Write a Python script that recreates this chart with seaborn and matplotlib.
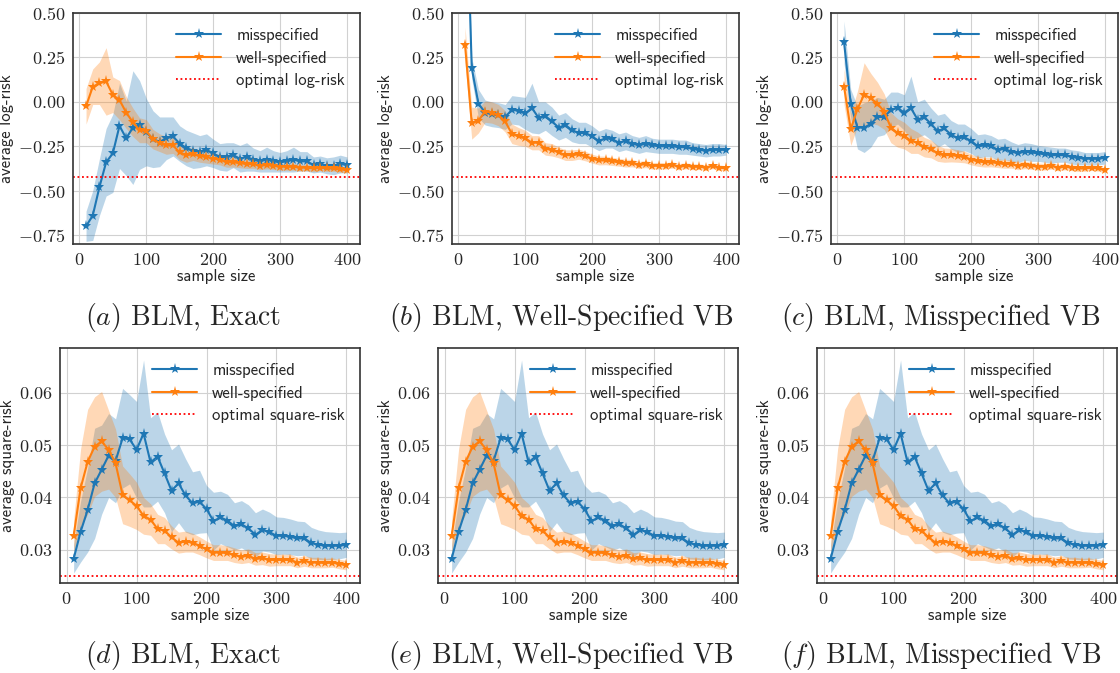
import numpy as np
import seaborn as sns
import matplotlib
matplotlib.use("Agg")
import matplotlib.pyplot as plt
from matplotlib.ticker import FuncFormatter

# sample sizes
sizes = list(range(10, 401, 10))

# ---- log-risk (top row) ----
log_mis_exact = [-0.70, -0.64, -0.48, -0.34, -0.29, -0.135, -0.205, -0.145, -0.13, -0.17,
                 -0.21, -0.225, -0.205, -0.195, -0.235, -0.26, -0.275, -0.28, -0.27, -0.29,
                 -0.31, -0.31, -0.30, -0.32, -0.31, -0.325, -0.335, -0.325, -0.335, -0.34,
                 -0.335, -0.325, -0.335, -0.335, -0.355, -0.35, -0.36, -0.36, -0.35, -0.355]
log_mis_exact_sd = [0.085, 0.14, 0.16, 0.19, 0.22, 0.24, 0.21, 0.32, 0.25, 0.19,
                    0.16, 0.14, 0.12, 0.11, 0.10, 0.10, 0.10, 0.09, 0.09, 0.08,
                    0.075, 0.08, 0.07, 0.075, 0.08, 0.065, 0.06, 0.07, 0.06, 0.055,
                    0.06, 0.07, 0.055, 0.055, 0.045, 0.045, 0.045, 0.05, 0.05, 0.045]
log_well_exact = [-0.025, 0.085, 0.105, 0.115, 0.04, 0.01, -0.06, -0.115, -0.16, -0.165,
                  -0.21, -0.23, -0.245, -0.245, -0.285, -0.30, -0.295, -0.305, -0.31, -0.32,
                  -0.325, -0.34, -0.34, -0.345, -0.35, -0.35, -0.36, -0.355, -0.36, -0.365,
                  -0.365, -0.365, -0.37, -0.37, -0.375, -0.37, -0.375, -0.375, -0.38, -0.385]
log_well_exact_sd = [0.10, 0.10, 0.12, 0.19, 0.10, 0.11, 0.09, 0.08, 0.07, 0.065,
                     0.055, 0.05, 0.05, 0.045, 0.04, 0.04, 0.035, 0.035, 0.035, 0.03,
                     0.03, 0.028, 0.027, 0.026, 0.025, 0.024, 0.022, 0.022, 0.021, 0.02,
                     0.02, 0.02, 0.019, 0.018, 0.018, 0.017, 0.017, 0.016, 0.016, 0.015]

log_mis_wsvb = [1.45, 0.19, -0.01, -0.06, -0.07, -0.075, -0.085, -0.045, -0.05, -0.065,
                -0.035, -0.09, -0.08, -0.11, -0.145, -0.13, -0.16, -0.175, -0.175, -0.195,
                -0.22, -0.205, -0.21, -0.23, -0.22, -0.235, -0.245, -0.235, -0.245, -0.25,
                -0.25, -0.25, -0.255, -0.255, -0.265, -0.27, -0.275, -0.27, -0.27, -0.27]
log_mis_wsvb_sd = [0.10, 0.06, 0.08, 0.07, 0.07, 0.07, 0.07, 0.08, 0.08, 0.09,
                   0.14, 0.09, 0.08, 0.08, 0.07, 0.07, 0.065, 0.06, 0.06, 0.06,
                   0.055, 0.055, 0.05, 0.05, 0.05, 0.045, 0.045, 0.045, 0.04, 0.04,
                   0.04, 0.04, 0.04, 0.04, 0.035, 0.035, 0.035, 0.035, 0.035, 0.03]
log_well_wsvb = [0.32, -0.12, -0.105, -0.055, -0.06, -0.075, -0.11, -0.18, -0.195, -0.205,
                 -0.23, -0.23, -0.265, -0.27, -0.285, -0.30, -0.30, -0.295, -0.305, -0.32,
                 -0.33, -0.33, -0.335, -0.34, -0.345, -0.345, -0.355, -0.35, -0.36, -0.36,
                 -0.36, -0.355, -0.365, -0.36, -0.365, -0.365, -0.37, -0.36, -0.37, -0.375]
log_well_wsvb_sd = [0.10, 0.09, 0.07, 0.06, 0.06, 0.06, 0.06, 0.055, 0.05, 0.045,
                    0.04, 0.04, 0.035, 0.035, 0.03, 0.03, 0.03, 0.028, 0.027, 0.025,
                    0.025, 0.024, 0.023, 0.022, 0.022, 0.021, 0.02, 0.02, 0.019, 0.019,
                    0.018, 0.018, 0.018, 0.017, 0.017, 0.016, 0.016, 0.016, 0.015, 0.015]

log_mis_msvb = [0.335, -0.01, -0.145, -0.145, -0.125, -0.085, -0.085, -0.045, -0.035, -0.06,
                -0.035, -0.10, -0.085, -0.125, -0.165, -0.15, -0.185, -0.205, -0.20, -0.22,
                -0.25, -0.245, -0.25, -0.27, -0.265, -0.28, -0.29, -0.28, -0.285, -0.29,
                -0.295, -0.30, -0.30, -0.30, -0.31, -0.315, -0.32, -0.32, -0.32, -0.315]
log_mis_msvb_sd = [0.12, 0.08, 0.12, 0.14, 0.13, 0.11, 0.10, 0.10, 0.09, 0.10,
                   0.18, 0.10, 0.10, 0.09, 0.09, 0.085, 0.08, 0.08, 0.075, 0.07,
                   0.065, 0.065, 0.06, 0.06, 0.06, 0.055, 0.05, 0.05, 0.05, 0.045,
                   0.045, 0.045, 0.04, 0.04, 0.04, 0.04, 0.035, 0.035, 0.035, 0.035]
log_well_msvb = [0.085, -0.155, -0.04, 0.04, 0.02, -0.01, -0.055, -0.145, -0.175, -0.19,
                 -0.22, -0.23, -0.255, -0.265, -0.29, -0.30, -0.30, -0.305, -0.31, -0.325,
                 -0.335, -0.34, -0.34, -0.345, -0.35, -0.35, -0.36, -0.355, -0.36, -0.365,
                 -0.365, -0.36, -0.37, -0.365, -0.37, -0.375, -0.375, -0.37, -0.375, -0.385]
log_well_msvb_sd = [0.10, 0.09, 0.10, 0.18, 0.14, 0.12, 0.10, 0.085, 0.08, 0.075,
                    0.07, 0.06, 0.055, 0.05, 0.045, 0.04, 0.038, 0.035, 0.033, 0.03,
                    0.028, 0.027, 0.026, 0.025, 0.024, 0.023, 0.022, 0.021, 0.02, 0.02,
                    0.019, 0.019, 0.018, 0.018, 0.017, 0.017, 0.016, 0.016, 0.015, 0.015]

# ---- square-risk (bottom row) ----
sq_mis = [0.0283, 0.0335, 0.0376, 0.0427, 0.0453, 0.0480, 0.0470, 0.0513, 0.0511, 0.0491,
          0.0522, 0.0467, 0.0478, 0.0446, 0.0413, 0.0427, 0.0404, 0.0389, 0.0392, 0.0378,
          0.0355, 0.0362, 0.0356, 0.0345, 0.0349, 0.0341, 0.0329, 0.0338, 0.0334, 0.0327,
          0.0327, 0.0325, 0.0322, 0.0322, 0.0313, 0.0310, 0.0308, 0.0308, 0.0308, 0.0310]
sq_mis_sd = [0.0027, 0.0058, 0.0080, 0.0105, 0.0085, 0.0080, 0.0080, 0.0095, 0.0085, 0.0092,
             0.0140, 0.0085, 0.0085, 0.0075, 0.0078, 0.0075, 0.0070, 0.0060, 0.0060, 0.0045,
             0.0055, 0.0050, 0.0050, 0.0045, 0.0045, 0.0045, 0.0042, 0.0040, 0.0038, 0.0036,
             0.0035, 0.0034, 0.0033, 0.0032, 0.0030, 0.0028, 0.0027, 0.0026, 0.0025, 0.0024]
sq_well = [0.0327, 0.0418, 0.0468, 0.0497, 0.0507, 0.0491, 0.0465, 0.0405, 0.0395, 0.0384,
           0.0365, 0.0358, 0.0340, 0.0337, 0.0324, 0.0314, 0.0316, 0.0314, 0.0308, 0.0301,
           0.0295, 0.0295, 0.0294, 0.0290, 0.0287, 0.0289, 0.0283, 0.0284, 0.0281, 0.0281,
           0.0281, 0.0281, 0.0276, 0.0279, 0.0276, 0.0276, 0.0275, 0.0276, 0.0273, 0.0271]
sq_well_sd = [0.0030, 0.0075, 0.0100, 0.0095, 0.0095, 0.0075, 0.0065, 0.0055, 0.0050, 0.0045,
              0.0035, 0.0030, 0.0028, 0.0025, 0.0022, 0.0020, 0.0020, 0.0018, 0.0017, 0.0016,
              0.0015, 0.0015, 0.0014, 0.0014, 0.0013, 0.0013, 0.0012, 0.0012, 0.0012, 0.0011,
              0.0011, 0.0011, 0.0010, 0.0010, 0.0010, 0.0010, 0.0009, 0.0009, 0.0009, 0.0009]

optimal_log = -0.425
optimal_sq = 0.025

captions_top = [r"$(a)$ BLM, Exact", r"$(b)$ BLM, Well-Specified VB", r"$(c)$ BLM, Misspecified VB"]
captions_bot = [r"$(d)$ BLM, Exact", r"$(e)$ BLM, Well-Specified VB", r"$(f)$ BLM, Misspecified VB"]

sns.set_style("whitegrid")
plt.rcParams["font.family"] = ["cmss10", "DejaVu Sans"]
plt.rcParams["mathtext.fontset"] = "cm"
plt.rcParams["axes.formatter.use_mathtext"] = True
plt.rcParams["axes.edgecolor"] = "0.2"
plt.rcParams["axes.linewidth"] = 1.2
plt.rcParams["grid.color"] = "0.82"

BLUE = "#1f77b4"
ORANGE = "#ff7f0e"


def draw_panel(ax, mis, mis_sd, well, well_sd, opt, opt_label, ylabel, ylim, yticks, yfmt):
    x = np.array(sizes)
    for mean, sd, col, lab in [(mis, mis_sd, BLUE, "misspecified"),
                               (well, well_sd, ORANGE, "well-specified")]:
        mean = np.array(mean)
        sd = np.array(sd)
        ax.fill_between(x, mean - sd, mean + sd, color=col, alpha=0.3, linewidth=0)
        sns.lineplot(x=x, y=mean, ax=ax, color=col, marker="*", markersize=8,
                     markeredgewidth=0, linewidth=1.5, label=lab, errorbar=None)
    ax.axhline(opt, color="red", linestyle=(0, (1, 1.5)), linewidth=1.3, label=opt_label)
    ax.set_ylim(*ylim)
    ax.set_yticks(yticks)
    ax.set_xticks([0, 100, 200, 300, 400])
    ax.yaxis.set_major_formatter(FuncFormatter(lambda v, _: "$" + format(v, yfmt) + "$"))
    ax.xaxis.set_major_formatter(FuncFormatter(lambda v, _: "$%d$" % v))
    ax.tick_params(labelsize=13, pad=2)
    ax.set_xlabel("sample size", fontsize=12, labelpad=1)
    ax.set_ylabel(ylabel, fontsize=12, labelpad=3)
    ax.legend(loc="upper right", frameon=False, fontsize=12, handlelength=2.7,
              handletextpad=0.9, borderaxespad=0.5, labelspacing=0.45)


fig = plt.figure(figsize=(11.2, 6.73), dpi=100)

top_lefts = [73, 452, 831]
bot_lefts = [60, 438, 817]
log_data = [(log_mis_exact, log_mis_exact_sd, log_well_exact, log_well_exact_sd),
            (log_mis_wsvb, log_mis_wsvb_sd, log_well_wsvb, log_well_wsvb_sd),
            (log_mis_msvb, log_mis_msvb_sd, log_well_msvb, log_well_msvb_sd)]

for i in range(3):
    ax = fig.add_axes([top_lefts[i] / 1120, 1 - 244 / 673, 287 / 1120, 231 / 673])
    m, msd, w, wsd = log_data[i]
    draw_panel(ax, m, msd, w, wsd, optimal_log, "optimal log-risk", "average log-risk",
               (-0.8, 0.5), [-0.75, -0.5, -0.25, 0.0, 0.25, 0.5], ".2f")

    ax = fig.add_axes([bot_lefts[i] / 1120, 1 - 583 / 673, 300 / 1120, 235 / 673])
    draw_panel(ax, sq_mis, sq_mis_sd, sq_well, sq_well_sd, optimal_sq,
               "optimal square-risk", "average square-risk",
               (0.0237, 0.0685), [0.03, 0.04, 0.05, 0.06], ".2f")

caption_x = [183, 561, 941]
for i in range(3):
    fig.text(caption_x[i] / 1120, 1 - 318 / 673, captions_top[i], ha="center", va="center",
             fontsize=20, family="cmr10", math_fontfamily="cm")
    fig.text(caption_x[i] / 1120, 1 - 655 / 673, captions_bot[i], ha="center", va="center",
             fontsize=20, family="cmr10", math_fontfamily="cm")

fig.savefig("out.png", dpi=100)
